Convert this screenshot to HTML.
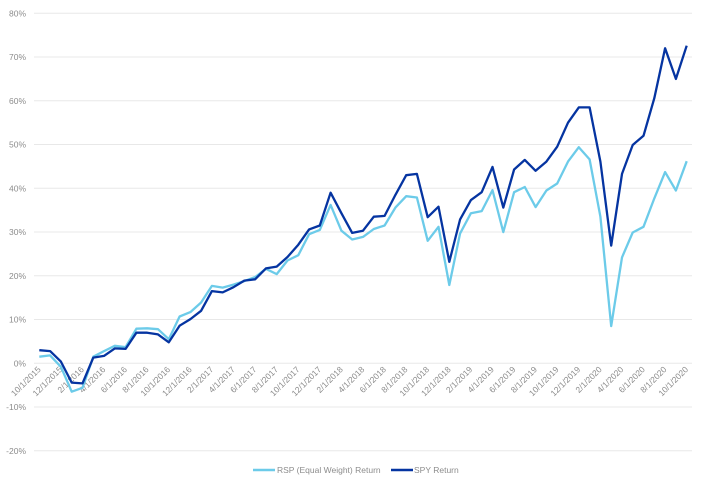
<!DOCTYPE html>
<html><head><meta charset="utf-8"><style>
body{margin:0;background:#fff;}
svg text{font-family:"Liberation Sans",sans-serif;fill:#8c8c8c;font-size:8.5px;}
</style></head><body>
<svg id="chart" width="704" height="485" xmlns="http://www.w3.org/2000/svg">
<g id="grid"></g>
<g id="yaxis"></g>
<g id="xaxis"></g>
<g id="series"></g>
<g>
<line x1="253" y1="470" x2="275" y2="470" stroke="#6ccbe9" stroke-width="2.5"/>
<text x="277" y="473">RSP (Equal Weight) Return</text>
<line x1="391" y1="470" x2="413" y2="470" stroke="#0534a1" stroke-width="2.5"/>
<text x="414" y="473">SPY Return</text>
</g>
</svg>
<script>
const yTicks=[-20,-10,0,10,20,30,40,50,60,70,80];
const spy=[3.0,2.8,0.4,-4.4,-4.6,1.3,1.7,3.4,3.3,7.0,7.0,6.6,4.8,8.6,10.1,12.0,16.5,16.2,17.4,18.9,19.2,21.7,22.1,24.3,27.1,30.6,31.5,39.0,34.3,29.8,30.3,33.5,33.7,38.5,43.0,43.3,33.4,35.8,23.2,32.9,37.3,39.1,44.9,35.6,44.3,46.5,44.0,46.1,49.5,55.0,58.5,58.5,46.1,26.9,43.3,49.9,52.0,60.6,72.0,65.0,72.6];
const rsp=[1.5,1.8,-0.8,-6.5,-5.6,1.5,2.8,4.0,3.7,7.9,8.0,7.8,5.5,10.7,11.7,13.9,17.7,17.3,18.0,18.8,19.7,21.6,20.4,23.5,24.7,29.5,30.5,36.2,30.3,28.3,28.9,30.7,31.5,35.6,38.2,37.9,28.0,31.2,17.9,29.7,34.3,34.8,39.6,30.0,39.1,40.3,35.7,39.5,41.1,46.1,49.4,46.6,33.5,8.5,24.2,29.9,31.2,37.7,43.7,39.5,46.2];
const startYear=2015,startMonth=10;
const ns="http://www.w3.org/2000/svg";
function y(v){return 363.3-v*4.375;}
function x(i){return 39.3+i*(647.4/(spy.length-1));}
function mk(t,a,p){const e=document.createElementNS(ns,t);for(const k in a)e.setAttribute(k,a[k]);p.appendChild(e);return e;}
const g=document.getElementById('grid'),ya=document.getElementById('yaxis'),xa=document.getElementById('xaxis'),s=document.getElementById('series');
yTicks.forEach(v=>{
 const l=mk('line',{x1:34,x2:692,y1:y(v),y2:y(v),stroke:'#e8e8e8','stroke-width':1},g);
 
 
 const t=mk('text',{x:26,y:y(v)+3,'text-anchor':'end'},ya);
 t.textContent=v+'%';
 
 
});
for(let i=0;i<spy.length;i+=2){
 let m=startMonth+i,yr=startYear+Math.floor((m-1)/12);m=((m-1)%12)+1;
 const t=mk('text',{x:x(i)+2,y:370,'text-anchor':'end',transform:`rotate(-45 ${x(i)+2} 370)`},xa);
 t.textContent=m+'/1/'+yr;
 
 
}
function line(d,c,n){
 const p=mk('polyline',{points:d.map((v,i)=>x(i).toFixed(1)+','+y(v).toFixed(1)).join(' '),fill:'none',stroke:c,'stroke-width':2.3,'stroke-linejoin':'round'},s);
 
 
}
line(rsp,'#6ccbe9','rsp-line');
line(spy,'#0534a1','spy-line');
</script>
</body></html>
